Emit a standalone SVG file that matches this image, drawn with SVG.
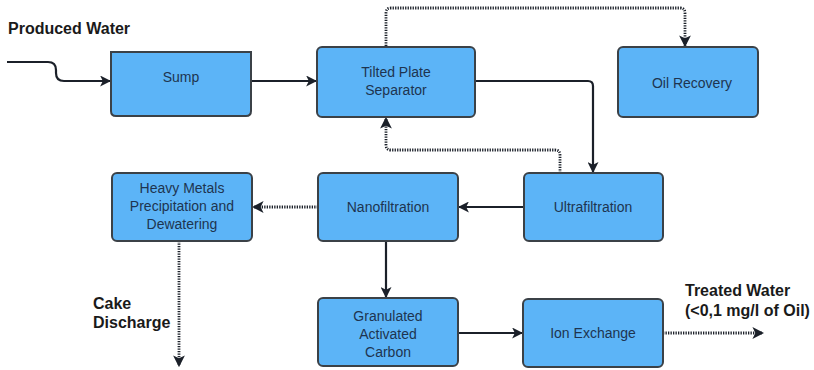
<svg xmlns="http://www.w3.org/2000/svg" width="814" height="370" viewBox="0 0 814 370">
<defs>
<style>
.box{fill:#5cb4f7;stroke:#3b4147;stroke-width:2}
.t{font-family:"Liberation Sans",Arial,sans-serif;font-size:14px;fill:#1e3450;text-anchor:middle}
.lbl{font-family:"Liberation Sans",Arial,sans-serif;font-size:16px;font-weight:bold;fill:#1a1a1a}
.c{fill:none;stroke:#1b2029;stroke-width:2.2}
.d{fill:none;stroke:#1b2029;stroke-width:2.8;stroke-dasharray:1.3 1.2}
</style>
<marker id="ah" viewBox="0 0 10 10" refX="9" refY="5" markerWidth="5" markerHeight="5" orient="auto" markerUnits="strokeWidth">
<path d="M0,0 L10,5 L0,10 L2.5,5 Z" fill="#1b2029"/>
</marker>
<marker id="ahd" viewBox="0 0 10 10" refX="9" refY="5" markerWidth="4.2" markerHeight="4.2" orient="auto" markerUnits="strokeWidth">
<path d="M0,0 L10,5 L0,10 L2.5,5 Z" fill="#1b2029"/>
</marker>
</defs>
<g id="connectors">
<path class="c" d="M7,62 H48 Q56,62 56,70 V73 Q56,81 64,81 H110" marker-end="url(#ah)"/>
<path class="c" d="M251,81 H316" marker-end="url(#ah)"/>
<path class="c" d="M475,81 H588 Q593,81 593,86 V172" marker-end="url(#ah)"/>
<path class="d" d="M386,46 V13 Q386,8 391,8 H680 Q685,8 685,13 V46" marker-end="url(#ahd)"/>
<path class="d" d="M560,173 V155 Q560,150 555,150 H391 Q386,150 386,145 V118" marker-end="url(#ahd)"/>
<path class="c" d="M524,207 H459" marker-end="url(#ah)"/>
<path class="d" d="M318,207 H253" marker-end="url(#ahd)"/>
<path class="c" d="M386,241 V297" marker-end="url(#ah)"/>
<path class="d" d="M179,241 V366" marker-end="url(#ahd)"/>
<path class="c" d="M458,333 H522" marker-end="url(#ah)"/>
<path class="d" d="M663,333 H763" marker-end="url(#ahd)"/>
</g>
<text class="lbl" x="8" y="34">Produced Water</text>
<g id="sump">
<path class="box" d="M111,52 V111 Q111,116 116,116 H246 Q251,116 251,111 V52 Z"/>
<text class="t" x="181" y="82">Sump</text>
</g>
<g id="tps">
<rect class="box" x="317" y="47" width="158" height="70" rx="5"/>
<text class="t" x="396" y="77">Tilted Plate</text>
<text class="t" x="396" y="95">Separator</text>
</g>
<g id="oil">
<rect class="box" x="618" y="47" width="140" height="70" rx="5"/>
<text class="t" x="692" y="88">Oil Recovery</text>
</g>
<g id="heavy">
<rect class="box" x="112" y="173" width="140" height="68" rx="5"/>
<text class="t" x="182" y="193">Heavy Metals</text>
<text class="t" x="182" y="211">Precipitation and</text>
<text class="t" x="182" y="229">Dewatering</text>
</g>
<g id="nano">
<rect class="box" x="318" y="173" width="140" height="68" rx="5"/>
<text class="t" x="388" y="212">Nanofiltration</text>
</g>
<g id="ultra">
<rect class="box" x="524" y="173" width="139" height="68" rx="5"/>
<text class="t" x="593" y="212">Ultrafiltration</text>
</g>
<g id="gac">
<rect class="box" x="318" y="298" width="140" height="68" rx="5"/>
<text class="t" x="388" y="321">Granulated</text>
<text class="t" x="388" y="339">Activated</text>
<text class="t" x="388" y="357">Carbon</text>
</g>
<g id="ion">
<rect class="box" x="523" y="299" width="140" height="68" rx="5"/>
<text class="t" x="593" y="338">Ion Exchange</text>
</g>
<text class="lbl" x="93" y="309">Cake</text>
<text class="lbl" x="93" y="328">Discharge</text>
<text class="lbl" x="685" y="296">Treated Water</text>
<text class="lbl" x="685" y="316">(&lt;0,1 mg/l of Oil)</text>
</svg>
